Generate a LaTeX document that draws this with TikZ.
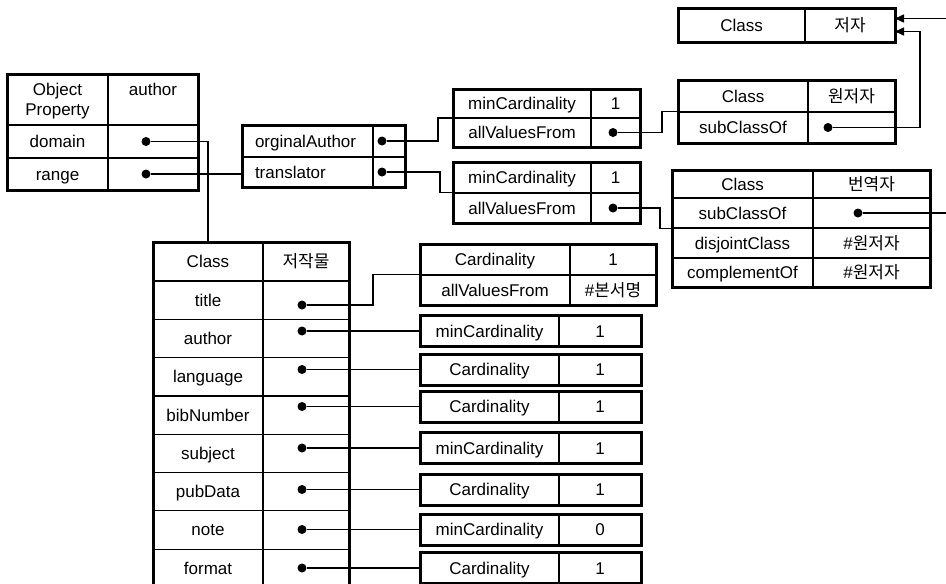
\documentclass[tikz,border=0pt]{standalone}
\usepackage{fontspec}
\setmainfont{Liberation Sans}
\newfontfamily\kr{Noto Sans CJK KR}
\usetikzlibrary{arrows.meta, positioning, fit}
\tikzstyle{oCell} = [rectangle, draw=black, line width=1.2pt, inner sep=2pt, outer sep=0pt, minimum height=30pt, text height=14pt, text depth=2pt, font=\fontsize{17}{20}\selectfont]
\tikzstyle{oFrame} = [rectangle, draw=black, line width=3pt, inner sep=0pt, outer sep=0pt]
\tikzstyle{oDot} = [circle, fill=black, inner sep=0pt, minimum size=9pt]
\tikzstyle{oLink} = [line width=1.5pt]
\tikzstyle{oArrow} = [line width=1.5pt, -{Triangle[length=9pt, width=8pt]}]
\tikzstyle{oWorkKey} = [oCell, minimum width=110pt, minimum height=38.3pt]
\tikzstyle{oWorkVal} = [oCell, minimum width=86pt, minimum height=38.3pt]
\tikzstyle{oRestKey} = [oCell, minimum width=139pt, minimum height=31pt]
\tikzstyle{oRestVal} = [oCell, minimum width=82pt, minimum height=31pt]

\begin{document}
\begin{tikzpicture}[x=1pt, y=-1pt]
    \useasboundingbox (0,0) rectangle (946,584);
    \clip (0,0) rectangle (946,584);

    % object property author
    \node (opHead) [oCell, anchor=north west, minimum width=101pt, minimum height=51pt, align=center, text height=34pt, text depth=2pt] at (7,74) {Object\\Property};
    \node (opName) [oCell, right=0pt of opHead, minimum width=90pt, minimum height=51pt, text depth=22pt] {author};
    \node (opDomain) [oCell, below=0pt of opHead, minimum width=101pt, minimum height=33pt] {domain};
    \node (opDomainVal) [oCell, right=0pt of opDomain, minimum width=90pt, minimum height=33pt] {};
    \node (opRange) [oCell, below=0pt of opDomain, minimum width=101pt, minimum height=32pt] {range};
    \node (opRangeVal) [oCell, right=0pt of opRange, minimum width=90pt, minimum height=32pt] {};
    \node (op) [oFrame, fit=(opHead)(opRangeVal)] {};

    % sub properties
    \node (propOrig) [oCell, anchor=north west, minimum width=131pt, minimum height=32pt, text width=105pt, align=left] at (242,125) {orginalAuthor};
    \node (propOrigVal) [oCell, right=0pt of propOrig, minimum width=32pt, minimum height=32pt] {};
    \node (propTrans) [oCell, below=0pt of propOrig, minimum width=131pt, minimum height=30pt, text width=105pt, align=left] {translator};
    \node (propTransVal) [oCell, right=0pt of propTrans, minimum width=32pt, minimum height=30pt] {};
    \node (prop) [oFrame, fit=(propOrig)(propTransVal)] {};

    % restrictions of the sub properties
    \node (rOrigMin) [oCell, anchor=north west, minimum width=138pt, minimum height=29pt] at (453,89) {minCardinality};
    \node (rOrigMinVal) [oCell, right=0pt of rOrigMin, minimum width=49pt, minimum height=29pt] {1};
    \node (rOrigAll) [oCell, below=0pt of rOrigMin, minimum width=138pt, minimum height=29pt] {allValuesFrom};
    \node (rOrigAllVal) [oCell, right=0pt of rOrigAll, minimum width=49pt, minimum height=29pt] {};
    \node (rOrig) [oFrame, fit=(rOrigMin)(rOrigAllVal)] {};
    \node (rTransMin) [oCell, anchor=north west, minimum width=138pt, minimum height=31pt] at (453,162) {minCardinality};
    \node (rTransMinVal) [oCell, right=0pt of rTransMin, minimum width=49pt, minimum height=31pt] {1};
    \node (rTransAll) [oCell, below=0pt of rTransMin, minimum width=138pt, minimum height=30pt] {allValuesFrom};
    \node (rTransAllVal) [oCell, right=0pt of rTransAll, minimum width=49pt, minimum height=30pt] {};
    \node (rTrans) [oFrame, fit=(rTransMin)(rTransAllVal)] {};

    % classes
    \node (clsAuthorKey) [oCell, anchor=north west, minimum width=127pt, minimum height=34pt] at (678,8) {Class};
    \node (clsAuthorVal) [oCell, right=0pt of clsAuthorKey, minimum width=90pt, minimum height=34pt] {\kr 저자};
    \node (clsAuthor) [oFrame, fit=(clsAuthorKey)(clsAuthorVal)] {};
    \node (clsOrigKey) [oCell, anchor=north west, minimum width=130pt, minimum height=32pt] at (678,80) {Class};
    \node (clsOrigVal) [oCell, right=0pt of clsOrigKey, minimum width=87pt, minimum height=32pt] {\kr 원저자};
    \node (clsOrigSub) [oCell, below=0pt of clsOrigKey, minimum width=130pt, minimum height=31pt] {subClassOf};
    \node (clsOrigSubVal) [oCell, right=0pt of clsOrigSub, minimum width=87pt, minimum height=31pt] {};
    \node (clsOrig) [oFrame, fit=(clsOrigKey)(clsOrigSubVal)] {};
    \node (clsTransKey) [oCell, anchor=north west, minimum width=141pt, minimum height=28pt] at (672,170) {Class};
    \node (clsTransVal) [oCell, right=0pt of clsTransKey, minimum width=117pt, minimum height=28pt] {\kr 번역자};
    \node (clsTransSub) [oCell, below=0pt of clsTransKey, minimum width=141pt, minimum height=30pt] {subClassOf};
    \node (clsTransSubVal) [oCell, right=0pt of clsTransSub, minimum width=117pt, minimum height=30pt] {};
    \node (clsTransDis) [oCell, below=0pt of clsTransSub, minimum width=141pt, minimum height=30pt] {disjointClass};
    \node (clsTransDisVal) [oCell, right=0pt of clsTransDis, minimum width=117pt, minimum height=30pt] {\#{\kr 원저자}};
    \node (clsTransCom) [oCell, below=0pt of clsTransDis, minimum width=141pt, minimum height=29pt] {complementOf};
    \node (clsTransComVal) [oCell, right=0pt of clsTransCom, minimum width=117pt, minimum height=29pt] {\#{\kr 원저자}};
    \node (clsTrans) [oFrame, fit=(clsTransKey)(clsTransComVal)] {};

    % class of the work
    \node (workHead) [oCell, anchor=north west, minimum width=110pt, minimum height=39pt] at (153,242) {Class};
    \node (workName) [oCell, right=0pt of workHead, minimum width=86pt, minimum height=39pt] {\kr 저작물};
    \node (workTitle) [oWorkKey, below=0pt of workHead] {title};
    \node (workTitleVal) [oWorkVal, right=0pt of workTitle] {};
    \node (workAuthor) [oWorkKey, below=0pt of workTitle] {author};
    \node (workAuthorVal) [oWorkVal, right=0pt of workAuthor] {};
    \node (workLang) [oWorkKey, below=0pt of workAuthor] {language};
    \node (workLangVal) [oWorkVal, right=0pt of workLang] {};
    \node (workBib) [oWorkKey, below=0pt of workLang] {bibNumber};
    \node (workBibVal) [oWorkVal, right=0pt of workBib] {};
    \node (workSubj) [oWorkKey, below=0pt of workBib] {subject};
    \node (workSubjVal) [oWorkVal, right=0pt of workSubj] {};
    \node (workPub) [oWorkKey, below=0pt of workSubj] {pubData};
    \node (workPubVal) [oWorkVal, right=0pt of workPub] {};
    \node (workNote) [oWorkKey, below=0pt of workPub] {note};
    \node (workNoteVal) [oWorkVal, right=0pt of workNote] {};
    \node (workFormat) [oWorkKey, below=0pt of workNote] {format};
    \node (workFormatVal) [oWorkVal, right=0pt of workFormat] {};
    \node (work) [oFrame, fit=(workHead)(workFormatVal)] {};

    % restrictions of the work
    \node (rTitleCard) [oCell, anchor=north west, minimum width=150pt, minimum height=31pt] at (420,244) {Cardinality};
    \node (rTitleCardVal) [oCell, right=0pt of rTitleCard, minimum width=86pt, minimum height=31pt] {1};
    \node (rTitleAll) [oCell, below=0pt of rTitleCard, minimum width=150pt, minimum height=30pt] {allValuesFrom};
    \node (rTitleAllVal) [oCell, right=0pt of rTitleAll, minimum width=86pt, minimum height=30pt] {\#{\kr 본서명}};
    \node (rTitle) [oFrame, fit=(rTitleCard)(rTitleAllVal)] {};
    \node (rAuthorKey) [oRestKey, anchor=west] at (420,331) {minCardinality};
    \node (rAuthorVal) [oRestVal, right=0pt of rAuthorKey] {1};
    \node (rAuthor) [oFrame, fit=(rAuthorKey)(rAuthorVal)] {};
    \node (rLangKey) [oRestKey, anchor=west] at (420,369.5) {Cardinality};
    \node (rLangVal) [oRestVal, right=0pt of rLangKey] {1};
    \node (rLang) [oFrame, fit=(rLangKey)(rLangVal)] {};
    \node (rBibKey) [oRestKey, anchor=west] at (420,406.5) {Cardinality};
    \node (rBibVal) [oRestVal, right=0pt of rBibKey] {1};
    \node (rBib) [oFrame, fit=(rBibKey)(rBibVal)] {};
    \node (rSubjKey) [oRestKey, anchor=west] at (420,448) {minCardinality};
    \node (rSubjVal) [oRestVal, right=0pt of rSubjKey] {1};
    \node (rSubj) [oFrame, fit=(rSubjKey)(rSubjVal)] {};
    \node (rPubKey) [oRestKey, anchor=west] at (420,489.5) {Cardinality};
    \node (rPubVal) [oRestVal, right=0pt of rPubKey] {1};
    \node (rPub) [oFrame, fit=(rPubKey)(rPubVal)] {};
    \node (rNoteKey) [oRestKey, anchor=west] at (420,529.5) {minCardinality};
    \node (rNoteVal) [oRestVal, right=0pt of rNoteKey] {0};
    \node (rNote) [oFrame, fit=(rNoteKey)(rNoteVal)] {};
    \node (rFormatKey) [oRestKey, anchor=west] at (420,568) {Cardinality};
    \node (rFormatVal) [oRestVal, right=0pt of rFormatKey] {1};
    \node (rFormat) [oFrame, fit=(rFormatKey)(rFormatVal)] {};

    % dots
    \node (opDomainDot) [oDot] at ([xshift=-7pt]opDomainVal.center) {};
    \node (opRangeDot) [oDot] at ([xshift=-7pt]opRangeVal.center) {};
    \node (propOrigDot) [oDot] at ([xshift=-7pt]propOrigVal.center) {};
    \node (propTransDot) [oDot] at ([xshift=-7pt]propTransVal.center) {};
    \node (rOrigDot) [oDot] at ([xshift=-2.5pt]rOrigAllVal.center) {};
    \node (rTransDot) [oDot] at ([xshift=-2.5pt]rTransAllVal.center) {};
    \node (clsOrigDot) [oDot] at ([xshift=-23.5pt]clsOrigSubVal.center) {};
    \node (clsTransDot) [oDot] at ([xshift=-13.5pt]clsTransSubVal.center) {};
    \node (workTitleDot) [oDot] at (302,305) {};
    \node (workAuthorDot) [oDot] at (302,331) {};
    \node (workLangDot) [oDot] at (302,369.5) {};
    \node (workBibDot) [oDot] at (302,406.5) {};
    \node (workSubjDot) [oDot] at (302,448) {};
    \node (workPubDot) [oDot] at (302,489.5) {};
    \node (workNoteDot) [oDot] at (302,529.5) {};
    \node (workFormatDot) [oDot] at (302,568) {};

    \draw [oLink] (opDomainDot) -| (workHead.north);
    \draw [oLink] (opRangeDot) -- (opRangeDot -| prop.west);
    \draw [oLink] (propOrigDot) -- ++(56,0) |- (rOrig.west);
    \draw [oLink] (propTransDot) -- ++(58,0) |- (rTrans.west);
    \draw [oLink] (rOrigDot) -- ++(49,0) |- (clsOrig.west);
    \draw [oLink] (rTransDot) -- ++(47,0) |- (clsTrans.west);
    \draw [oArrow] (clsOrigDot) -- ++(92,0) |- ([yshift=-6.5pt]clsAuthor.east);
    \draw [oArrow] (clsTransDot) -- ++(100,0) |- ([yshift=6.5pt]clsAuthor.east);
    \draw [oLink] (workTitleDot) -- ++(71,0) |- (rTitle.west);
    \draw [oLink] (workAuthorDot) -- (rAuthor.west);
    \draw [oLink] (workLangDot) -- (rLang.west);
    \draw [oLink] (workBibDot) -- (rBib.west);
    \draw [oLink] (workSubjDot) -- (rSubj.west);
    \draw [oLink] (workPubDot) -- (rPub.west);
    \draw [oLink] (workNoteDot) -- (rNote.west);
    \draw [oLink] (workFormatDot) -- (rFormat.west);
\end{tikzpicture}
\end{document}
